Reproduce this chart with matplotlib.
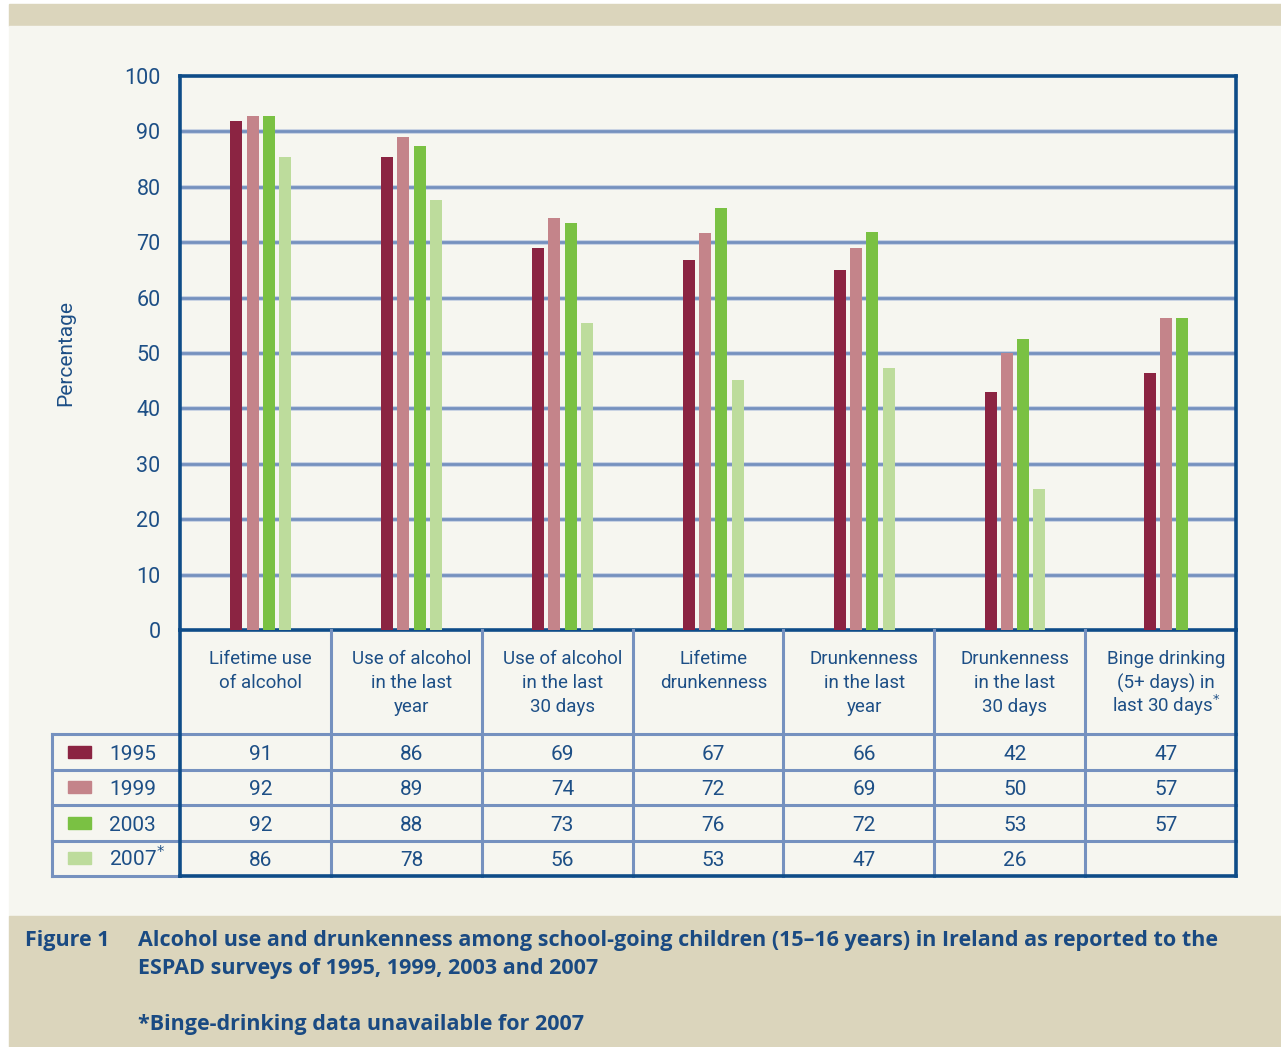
import numpy as np
import matplotlib
matplotlib.use("Agg")
import matplotlib.pyplot as plt
from matplotlib.patches import Rectangle

categories = [
    "Lifetime use\nof alcohol",
    "Use of alcohol\nin the last\nyear",
    "Use of alcohol\nin the last\n30 days",
    "Lifetime\ndrunkenness",
    "Drunkenness\nin the last\nyear",
    "Drunkenness\nin the last\n30 days",
    "Binge drinking\n(5+ days) in\nlast 30 days$^{*}$",
]
years = ["1995", "1999", "2003", "2007$^{*}$"]

# bar heights as drawn in the chart
bars_1995 = [91.9, 85.4, 69.0, 66.8, 65.0, 43.0, 46.3]
bars_1999 = [92.8, 88.9, 74.3, 71.7, 69.0, 50.0, 56.4]
bars_2003 = [92.8, 87.4, 73.4, 76.2, 71.9, 52.6, 56.4]
bars_2007 = [85.4, 77.7, 55.5, 45.2, 47.3, 25.5, np.nan]

# values printed in the table
table_1995 = ["91", "86", "69", "67", "66", "42", "47"]
table_1999 = ["92", "89", "74", "72", "69", "50", "57"]
table_2003 = ["92", "88", "73", "76", "72", "53", "57"]
table_2007 = ["86", "78", "56", "53", "47", "26", ""]

colors = ["#8b2442", "#c4848a", "#7ac143", "#bddc9c"]
yticks = list(range(0, 101, 10))

W, H = 1281, 1047
dark = "#0e4c88"
light = "#7591bf"
txt = "#1d4f86"
bg = "#f6f6f0"
beige = "#dbd5bc"
chart_font = ["Roboto", "DejaVu Sans"]

plt.rcParams["font.family"] = chart_font

fig = plt.figure(figsize=(W / 100, H / 100), dpi=100)
fig.patch.set_facecolor("white")


def px_rect(x0, y0, x1, y1, color):
    fig.patches.append(Rectangle((x0 / W, 1 - y1 / H), (x1 - x0) / W, (y1 - y0) / H,
                                 transform=fig.transFigure, color=color, zorder=-10))


px_rect(9, 4, W, 26, beige)
px_rect(9, 26, W, 916, bg)
px_rect(9, 916, W, H, beige)


def ax_box(x0, y0, x1, y1):
    return [x0 / W, 1 - y1 / H, (x1 - x0) / W, (y1 - y0) / H]


# ---- main bar chart
ax = fig.add_axes(ax_box(180, 76, 1236, 630))
ax.set_facecolor("none")
series = [bars_1995, bars_1999, bars_2003, bars_2007]
bw, step, shift = 0.08, 0.108, 0.035
for i in range(len(categories)):
    present = [s for s in range(len(series)) if not np.isnan(series[s][i])]
    n = len(present)
    for k, s in enumerate(present):
        xpos = i + 0.5 + shift + (k - (n - 1) / 2) * step
        ax.bar(xpos, series[s][i], width=bw, color=colors[s], zorder=3)

ax.set_xlim(0, len(categories))
ax.set_ylim(0, 100)
ax.set_yticks(yticks)
ax.set_xticks([])
ax.tick_params(axis="y", length=0, pad=14, labelsize=15.5, labelcolor=txt)
for y in yticks[1:-1]:
    ax.axhline(y, color="#c9d3e3", lw=3.6, zorder=1)
    ax.axhline(y, color=light, lw=2.0, zorder=2)
for sp in ax.spines.values():
    sp.set_color(dark)
    sp.set_linewidth(2.6)
ax.set_ylabel("Percentage", fontsize=15, color=txt)
ax.yaxis.set_label_coords(-0.099, 0.5)

# ---- data table under the chart
tx0 = -128 / (1056 / len(categories))
tab = fig.add_axes(ax_box(52, 630, 1236, 876))
tab.set_xlim(tx0, len(categories))
tab.set_ylim(246, 0)
tab.axis("off")

header_h = 104.3
row_h = (246 - header_h) / 4
row_edges = [header_h + r * row_h for r in range(5)]

kw = dict(clip_on=False, solid_capstyle="projecting")
for i in range(1, len(categories)):
    tab.plot([i, i], [0, 246], color=light, lw=2.2, **kw)
for y in row_edges[:-1]:
    tab.plot([tx0, len(categories)], [y, y], color=light, lw=2.2, **kw)
tab.plot([tx0, tx0], [header_h, 246], color=light, lw=2.2, **kw)
tab.plot([tx0, 0], [246, 246], color=light, lw=2.2, **kw)
tab.plot([0, 0], [0, 246], color=dark, lw=2.6, **kw)
tab.plot([len(categories)] * 2, [0, 246], color=dark, lw=2.6, **kw)
tab.plot([0, len(categories)], [246, 246], color=dark, lw=2.6, **kw)

for i, lab in enumerate(categories):
    for j, line in enumerate(lab.split("\n")):
        tab.text(i + 0.5 + shift, 34.5 + 24 * j, line, ha="center", va="baseline",
                 fontsize=13.5, color=txt)

tables = [table_1995, table_1999, table_2003, table_2007]
for r, (yr, vals) in enumerate(zip(years, tables)):
    yc = (row_edges[r] + row_edges[r + 1]) / 2
    tab.add_patch(Rectangle((-0.742, yc - 6), 0.152, 12, color=colors[r], clip_on=False))
    tab.text(-0.471, yc + 8, yr, ha="left", va="baseline", fontsize=15, color=txt)
    for i, v in enumerate(vals):
        tab.text(i + 0.5 + shift, yc + 8, v, ha="center", va="baseline",
                 fontsize=15, color=txt)

# ---- caption
cap = dict(fontsize=15.5, fontweight="bold", color="#1a4a82",
           family=["Open Sans", "DejaVu Sans"], va="baseline")
fig.text(25 / W, 1 - 946 / H, "Figure 1", **cap)
fig.text(138 / W, 1 - 946 / H,
         "Alcohol use and drunkenness among school-going children (15\u201316 years) in Ireland as reported to the",
         **cap)
fig.text(138 / W, 1 - 974 / H, "ESPAD surveys of 1995, 1999, 2003 and 2007", **cap)
fig.text(138 / W, 1 - 1030 / H, "*Binge-drinking data unavailable for 2007", **cap)

fig.savefig("out.png", dpi=100, facecolor=fig.get_facecolor())
